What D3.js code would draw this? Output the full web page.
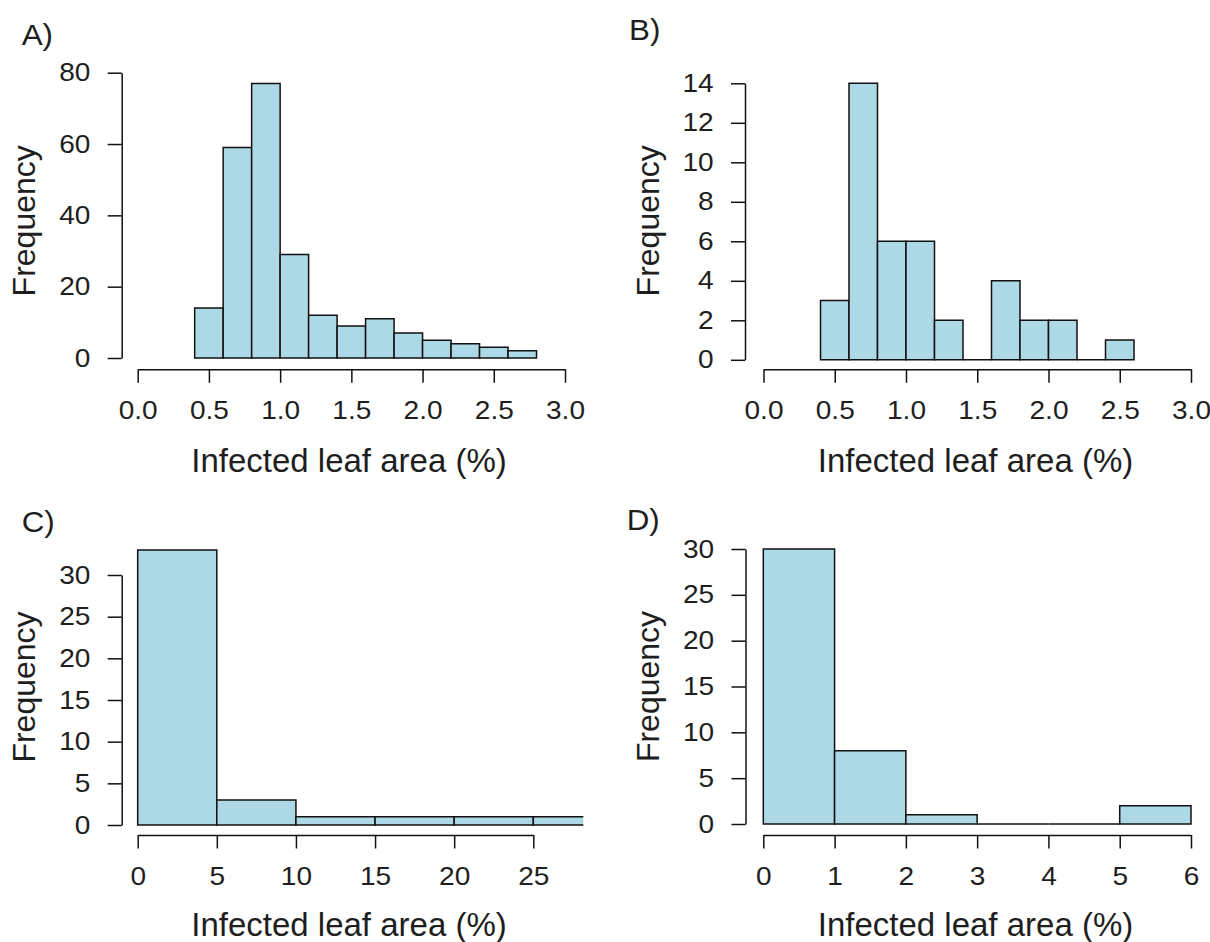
<!DOCTYPE html>
<html>
<head>
<meta charset="utf-8">
<script src="https://cdn.jsdelivr.net/npm/d3@7"></script>
<style>
  body { margin: 0; background: #fff; }
  svg text { font-family: "Liberation Sans", Arial, sans-serif; fill: #1e1e1e; }
</style>
</head>
<body>
<script>
// bin edges and counts
var breaksA = [0.4, 0.6, 0.8, 1.0, 1.2, 1.4, 1.6, 1.8, 2.0, 2.2, 2.4, 2.6, 2.8];
var countsA = [14, 59, 77, 29, 12, 9, 11, 7, 5, 4, 3, 2];
var breaksB = [0.4, 0.6, 0.8, 1.0, 1.2, 1.4, 1.6, 1.8, 2.0, 2.2, 2.4, 2.6];
var countsB = [3, 14, 6, 6, 2, 0, 4, 2, 2, 0, 1];
var breaksC = [0, 5, 10, 15, 20, 25, 30];
var countsC = [33, 3, 1, 1, 1, 1];
var breaksD = [0, 1, 2, 3, 4, 5, 6];
var countsD = [30, 8, 1, 0, 0, 2];

// axis ticks
var xTicksAB = [0, 0.5, 1.0, 1.5, 2.0, 2.5, 3.0];
var xTicksC = [0, 5, 10, 15, 20, 25];
var xTicksD = [0, 1, 2, 3, 4, 5, 6];
var yTicksA = [0, 20, 40, 60, 80];
var yTicksB = [0, 2, 4, 6, 8, 10, 12, 14];
var yTicksCD = [0, 5, 10, 15, 20, 25, 30];

var xLabel = "Infected leaf area (%)";
var yLabel = "Frequency";

var svg = d3.select("body").append("svg")
    .attr("width", 1210)
    .attr("height", 942);

var panels = [
  { label: "A)", breaks: breaksA, counts: countsA, xTicks: xTicksAB, yTicks: yTicksA, fmt: d3.format(".1f"),
    xDomain: [0, 3], xRange: [137.7, 565], yDomain: [0, 80], yRange: [358, 72.7],
    axisX: 121.7, axisY: 369.3, clipRight: 600, letter: [21.7, 45], titleX: 349, titleY: 471.7, freqX: 35, freqY: 220.8 },
  { label: "B)", breaks: breaksB, counts: countsB, xTicks: xTicksAB, yTicks: yTicksB, fmt: d3.format(".1f"),
    xDomain: [0, 3], xRange: [763.5, 1191], yDomain: [0, 14], yRange: [359.8, 83.3],
    axisX: 745, axisY: 369.3, clipRight: 1210, letter: [629, 40], titleX: 975.5, titleY: 471.7, freqX: 659, freqY: 220.8 },
  { label: "C)", breaks: breaksC, counts: countsC, xTicks: xTicksC, yTicks: yTicksCD, fmt: d3.format("d"),
    xDomain: [0, 25], xRange: [137.7, 533.3], yDomain: [0, 30], yRange: [825, 575],
    axisX: 121.7, axisY: 835, clipRight: 583.3, letter: [21.7, 531.7], titleX: 349, titleY: 935.5, freqX: 35, freqY: 687 },
  { label: "D)", breaks: breaksD, counts: countsD, xTicks: xTicksD, yTicks: yTicksCD, fmt: d3.format("d"),
    xDomain: [0, 6], xRange: [763.3, 1191], yDomain: [0, 30], yRange: [824, 549],
    axisX: 745.5, axisY: 835, clipRight: 1210, letter: [626.7, 530], titleX: 975.5, titleY: 936, freqX: 659, freqY: 686.5 }
];

function drawPanel(p, i) {
  var x = d3.scaleLinear().domain(p.xDomain).range(p.xRange);
  var y = d3.scaleLinear().domain(p.yDomain).range(p.yRange);
  var g = svg.append("g");

  var clipId = "clip" + i;
  g.append("clipPath").attr("id", clipId)
    .append("rect")
    .attr("x", p.axisX).attr("y", 0)
    .attr("width", p.clipRight - p.axisX).attr("height", 942);

  var bins = p.counts.map(function(c, k) {
    return { x0: p.breaks[k], x1: p.breaks[k + 1], n: c };
  });

  // bars as closed paths so empty bins still show a line at zero
  g.append("g")
    .attr("clip-path", "url(#" + clipId + ")")
    .selectAll("path")
    .data(bins)
    .enter().append("path")
    .attr("d", function(d) {
      return "M" + x(d.x0) + "," + y(0) + "V" + y(d.n) + "H" + x(d.x1) + "V" + y(0) + "Z";
    })
    .attr("fill", "#add8e6")
    .attr("stroke", "#111")
    .attr("stroke-width", 1.5);

  var xAxis = g.append("g")
    .attr("transform", "translate(0," + p.axisY + ")")
    .call(d3.axisBottom(x).tickValues(p.xTicks).tickFormat(p.fmt)
      .tickSize(13.5).tickSizeOuter(0).tickPadding(18));

  var yAxis = g.append("g")
    .attr("transform", "translate(" + p.axisX + ",0)")
    .call(d3.axisLeft(y).tickValues(p.yTicks).tickFormat(d3.format("d"))
      .tickSize(14).tickSizeOuter(0).tickPadding(14.5));

  [xAxis, yAxis].forEach(function(a) {
    a.attr("font-family", null).attr("font-size", null).attr("color", "#111");
    a.selectAll("path, line").attr("stroke-width", 1.5);
    // the reference digits are a little wider than Liberation Sans
    a.selectAll("text").style("font-size", "25.5px").attr("transform", "scale(1.1,1)");
  });

  g.append("text")
    .attr("transform", "translate(" + p.letter[0] + "," + p.letter[1] + ") scale(1.08,1)")
    .style("font-size", "29px")
    .text(p.label);

  g.append("text")
    .attr("x", p.titleX).attr("y", p.titleY)
    .attr("text-anchor", "middle")
    .style("font-size", "33px")
    .text(xLabel);

  g.append("text")
    .attr("transform", "translate(" + p.freqX + "," + p.freqY + ") rotate(-90)")
    .attr("text-anchor", "middle")
    .style("font-size", "32px")
    .text(yLabel);
}

panels.forEach(drawPanel);
</script>
</body>
</html>
